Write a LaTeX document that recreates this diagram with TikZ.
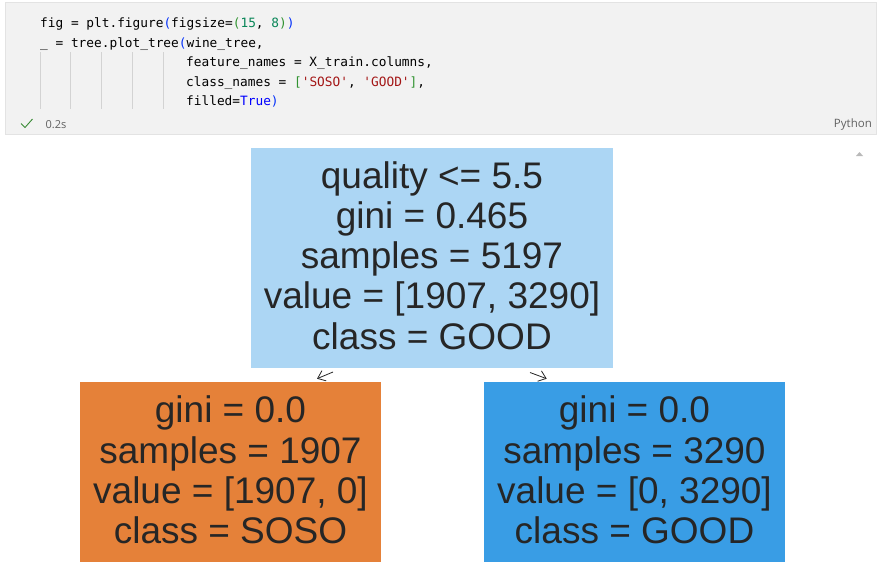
\documentclass[tikz,border=0pt]{standalone}
\usepackage{fontspec}
\setmainfont{Liberation Sans}
\newfontfamily\codefont{DejaVu Sans Mono}
\newfontfamily\uifont{Open Sans}
\usetikzlibrary{arrows.meta}
\definecolor{cellbg}{HTML}{F2F2F2}
\definecolor{cellborder}{HTML}{E3E3E3}
\definecolor{rootc}{HTML}{ACD6F4}
\definecolor{sosoc}{HTML}{E58139}
\definecolor{goodc}{HTML}{399DE5}
\definecolor{treetext}{HTML}{262626}
\definecolor{bone}{HTML}{0431FA}
\definecolor{btwo}{HTML}{319331}
\definecolor{numc}{HTML}{098658}
\definecolor{strc}{HTML}{A31515}
\definecolor{kwc}{HTML}{0000FF}
\definecolor{uigray}{HTML}{616161}
\definecolor{guidec}{HTML}{D3D3D3}
\definecolor{checkc}{HTML}{388A34}
\newcommand{\cA}[1]{\textcolor{bone}{#1}}
\newcommand{\cB}[1]{\textcolor{btwo}{#1}}
\newcommand{\cN}[1]{\textcolor{numc}{#1}}
\newcommand{\cS}[1]{\textcolor{strc}{#1}}
\newcommand{\cK}[1]{\textcolor{kwc}{#1}}
\begin{document}
\begin{tikzpicture}[x=1pt,y=-1pt,
  treebox/.style={rectangle,draw=none,inner sep=0pt,anchor=center},
  treetxt/.style={align=center,text=treetext,inner sep=0pt,font=\fontsize{37}{40.25}\selectfont},
  codeline/.style={anchor=base west,inner sep=0pt,font=\codefont\fontsize{12.8}{15}\selectfont},
  edgearrow/.style={draw=treetext,line width=0.8pt,-{Straight Barb[length=7pt,width=11pt,line width=0.8pt]}},
  guide/.style={draw=guidec,line width=0.7pt}]
\useasboundingbox (0,0) rectangle (880,565);
\fill[white] (0,0) rectangle (880,565);
% code cell
\draw[fill=cellbg,draw=cellborder,line width=0.8pt] (5,2.5) rectangle (876,134);
\foreach \gx in {40,70.8,101.6,132.4,163.2} \draw[guide] (\gx,52) -- (\gx,109);
\node[codeline] (l1) at (40,27.5) {fig = plt.figure\cA{(}figsize=\cB{(}\cN{15}, \cN{8}\cB{)}\cA{)}};
\node[codeline] (l2) at (40,47) {\_ = tree.plot\_tree\cA{(}wine\_tree,};
\node[codeline] (l3) at (186,66.5) {feature\_names = X\_train.columns,};
\node[codeline] (l4) at (186,86) {class\_names = \cB{[}\cS{'SOSO'}, \cS{'GOOD'}\cB{]},};
\node[codeline] (l5) at (186,105.5) {filled=\cK{True}\cA{)}};
\draw[checkc,line width=0.9pt] (21,123.5) -- (25,127.5) -- (32.5,119);
\node[anchor=west,inner sep=0pt,text=uigray,font=\uifont\fontsize{11}{13}\selectfont] (time) at (45.5,124.5) {0.2s};
\node[anchor=east,inner sep=0pt,text=uigray,font=\uifont\fontsize{11.5}{13}\selectfont] (lang) at (872,124.5) {Python};
\fill[gray!55] (856,156) -- (859.5,152) -- (863,156) -- cycle;
% tree
\node[treebox,fill=rootc,minimum width=362pt,minimum height=220pt] (root) at (432,258) {};
\node[treebox,fill=sosoc,minimum width=301pt,minimum height=180pt] (left) at (230.5,472) {};
\node[treebox,fill=goodc,minimum width=301pt,minimum height=180pt] (right) at (634.5,472) {};
\node[treetxt] (roottxt) at (432,255.5) {quality <= 5.5\\gini = 0.465\\samples = 5197\\value = [1907, 3290]\\class = GOOD};
\node[treetxt] (lefttxt) at (230.5,470) {gini = 0.0\\samples = 1907\\value = [1907, 0]\\class = SOSO};
\node[treetxt] (righttxt) at (634.5,470) {gini = 0.0\\samples = 3290\\value = [0, 3290]\\class = GOOD};
\coordinate (lt) at (333,372);
\coordinate (lh) at (317,378.7);
\coordinate (rt) at (530,372.5);
\coordinate (rh) at (546.7,378.7);
\draw[edgearrow] (lt) -- (lh);
\draw[edgearrow] (rt) -- (rh);
\end{tikzpicture}
\end{document}
